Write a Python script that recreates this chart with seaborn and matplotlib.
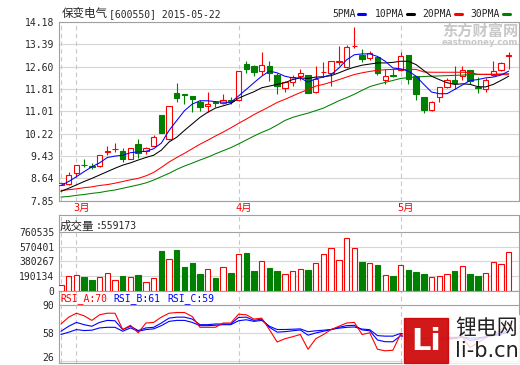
import numpy as np
import pandas as pd
import seaborn as sns
import matplotlib
matplotlib.use("Agg")
from matplotlib import pyplot as plt
from matplotlib.lines import Line2D
from matplotlib.patches import Rectangle
from matplotlib.transforms import ScaledTranslation

# daily candles, 保变电气 600550, late Feb -> 2015-05-22
open_px = [8.40, 8.43, 8.82, 9.13, 9.07, 9.09, 9.59, 9.67, 9.61, 9.34,
           9.87, 9.61, 9.79, 10.88, 10.04, 11.68, 11.64, 11.56, 11.35, 11.19,
           11.33, 11.32, 11.40, 11.42, 12.70, 12.61, 12.44, 12.63, 12.32, 11.85,
           12.06, 12.26, 12.30, 11.69, 12.40, 12.38, 12.78, 12.59, 13.33, 13.02,
           12.90, 12.93, 12.14, 12.30, 12.49, 13.02, 12.26, 11.53, 11.07, 11.54,
           11.89, 12.11, 12.26, 12.47, 11.87, 11.79, 12.30, 12.47, 12.99]
high_px = [8.49, 8.88, 9.13, 9.31, 9.20, 9.47, 9.78, 9.89, 9.73, 9.72,
           10.02, 9.75, 10.16, 10.88, 11.19, 12.03, 11.64, 11.56, 11.41, 11.70,
           11.39, 11.64, 11.53, 12.46, 12.79, 12.67, 13.10, 12.79, 12.38, 12.09,
           12.32, 12.53, 12.30, 12.63, 12.75, 12.79, 13.33, 13.35, 14.00, 13.23,
           13.14, 12.93, 12.50, 12.50, 13.11, 13.02, 12.26, 11.53, 11.39, 11.88,
           12.20, 12.63, 12.63, 12.47, 12.23, 12.20, 12.79, 12.76, 13.10]
low_px = [8.39, 8.39, 8.70, 9.05, 8.97, 9.05, 9.46, 9.58, 9.23, 9.31,
          9.38, 9.52, 9.78, 10.24, 9.99, 11.33, 11.29, 10.98, 11.04, 10.98,
          11.18, 11.29, 11.26, 11.38, 12.38, 12.26, 12.32, 12.09, 11.62, 11.70,
          11.93, 12.14, 11.68, 11.68, 12.22, 11.93, 12.67, 12.55, 13.26, 12.78,
          12.84, 12.32, 11.99, 12.23, 12.44, 11.99, 11.42, 10.94, 11.04, 11.36,
          11.85, 11.79, 12.14, 11.99, 11.68, 11.70, 12.26, 12.44, 12.53]
close_px = [8.48, 8.76, 9.13, 9.10, 9.05, 9.46, 9.62, 9.69, 9.34, 9.72,
            9.54, 9.72, 10.10, 10.24, 11.19, 11.50, 11.58, 11.47, 11.18, 11.27,
            11.32, 11.42, 11.38, 12.46, 12.52, 12.41, 12.65, 12.38, 11.91, 12.05,
            12.23, 12.36, 11.68, 12.17, 12.42, 12.79, 12.81, 13.28, 13.34, 12.87,
            13.07, 12.38, 12.25, 12.28, 12.96, 12.17, 11.62, 11.06, 11.36, 11.88,
            12.14, 12.03, 12.49, 12.09, 11.85, 12.14, 12.44, 12.72, 13.02]
volume = [78e3, 192e3, 205e3, 183e3, 143e3, 179e3, 235e3, 143e3, 196e3, 183e3,
          209e3, 117e3, 165e3, 509e3, 413e3, 522e3, 313e3, 356e3, 222e3, 283e3,
          170e3, 309e3, 235e3, 479e3, 483e3, 261e3, 387e3, 300e3, 261e3, 218e3,
          257e3, 283e3, 274e3, 365e3, 470e3, 557e3, 400e3, 674e3, 557e3, 378e3,
          365e3, 339e3, 209e3, 196e3, 339e3, 274e3, 239e3, 222e3, 179e3, 192e3,
          222e3, 261e3, 322e3, 222e3, 196e3, 235e3, 374e3, 352e3, 495e3]

ma5 = [8.39, 8.53, 8.70, 8.88, 9.05, 9.19, 9.38, 9.43, 9.46, 9.55,
       9.58, 9.60, 9.69, 9.89, 10.34, 10.69, 11.04, 11.27, 11.39, 11.39,
       11.36, 11.34, 11.33, 11.56, 11.79, 12.03, 12.26, 12.44, 12.38, 12.26,
       12.20, 12.20, 12.05, 12.17, 12.23, 12.32, 12.55, 12.84, 13.02, 13.05,
       13.05, 12.96, 12.79, 12.55, 12.52, 12.44, 12.26, 11.97, 11.70, 11.64,
       11.64, 11.79, 11.95, 12.11, 12.14, 12.20, 12.23, 12.30, 12.44]
ma10 = [8.18, 8.29, 8.41, 8.53, 8.64, 8.76, 8.88, 9.00, 9.11, 9.19,
        9.29, 9.38, 9.46, 9.64, 9.93, 10.10, 10.34, 10.57, 10.80, 10.98,
        11.13, 11.21, 11.29, 11.48, 11.60, 11.71, 11.85, 11.91, 11.97, 12.03,
        12.14, 12.20, 12.18, 12.23, 12.24, 12.28, 12.38, 12.49, 12.58, 12.65,
        12.69, 12.73, 12.73, 12.75, 12.79, 12.79, 12.67, 12.46, 12.26, 12.14,
        12.03, 11.97, 11.99, 11.97, 11.89, 11.88, 11.97, 12.11, 12.26]
ma20 = [8.21, 8.24, 8.27, 8.31, 8.34, 8.39, 8.42, 8.47, 8.53, 8.59,
        8.64, 8.73, 8.85, 9.03, 9.22, 9.38, 9.53, 9.69, 9.85, 9.99,
        10.14, 10.28, 10.43, 10.59, 10.74, 10.90, 11.04, 11.18, 11.33, 11.44,
        11.56, 11.68, 11.79, 11.91, 11.97, 12.05, 12.14, 12.23, 12.32, 12.38,
        12.43, 12.47, 12.49, 12.50, 12.50, 12.50, 12.50, 12.41, 12.40, 12.40,
        12.40, 12.40, 12.40, 12.39, 12.33, 12.32, 12.32, 12.32, 12.31]
ma30 = [7.98, 8.00, 8.04, 8.07, 8.11, 8.14, 8.19, 8.23, 8.29, 8.35,
        8.41, 8.48, 8.58, 8.70, 8.82, 8.96, 9.08, 9.18, 9.29, 9.39,
        9.51, 9.62, 9.73, 9.86, 10.00, 10.14, 10.27, 10.38, 10.53, 10.69,
        10.80, 10.88, 10.95, 11.04, 11.13, 11.26, 11.39, 11.50, 11.62, 11.76,
        11.89, 11.97, 12.04, 12.11, 12.18, 12.21, 12.23, 12.25, 12.26, 12.27,
        12.28, 12.29, 12.30, 12.31, 12.32, 12.33, 12.33, 12.34, 12.35]

rsi_a = [68.3, 76.1, 80.6, 77.6, 72.4, 78.8, 80.6, 80.6, 61.9, 66.8,
         58.2, 69.4, 70.1, 76.1, 80.6, 81.4, 81.4, 76.9, 64.5, 64.5,
         64.5, 69.4, 69.4, 79.5, 78.8, 73.9, 75.0, 61.9, 47.7, 51.4,
         53.7, 56.3, 39.4, 51.4, 56.3, 61.9, 65.7, 69.4, 70.1, 56.3,
         58.2, 39.4, 37.6, 38.3, 57.0, 48.8, 43.2, 39.4, 43.2, 48.8,
         50.7, 51.4, 53.7, 41.3, 46.9, 52.5, 56.3, 61.9, 70.0]
rsi_b = [60.0, 65.7, 70.1, 67.5, 65.7, 70.1, 72.4, 72.0, 61.9, 65.7,
         60.8, 63.8, 64.5, 69.4, 75.0, 76.1, 76.1, 73.9, 67.5, 67.5,
         68.3, 68.3, 68.3, 75.8, 76.1, 72.4, 73.9, 64.5, 59.0, 59.5,
         60.5, 61.5, 55.5, 58.0, 60.0, 62.0, 64.5, 66.4, 66.8, 61.5,
         60.5, 50.0, 48.0, 48.0, 55.0, 52.0, 48.5, 46.0, 48.0, 50.5,
         51.5, 52.0, 53.5, 49.5, 51.0, 53.5, 55.5, 58.0, 61.0]
rsi_c = [56.3, 58.9, 61.9, 60.8, 61.2, 63.8, 64.5, 64.5, 60.0, 63.8,
         60.0, 61.9, 62.7, 66.4, 71.3, 72.4, 72.4, 70.1, 66.4, 66.4,
         66.8, 67.5, 67.5, 72.0, 73.1, 71.3, 72.4, 65.7, 62.0, 62.0,
         62.3, 62.7, 59.5, 60.5, 61.2, 62.0, 63.5, 64.5, 64.9, 62.5,
         61.8, 55.0, 54.4, 54.4, 57.5, 56.0, 53.5, 51.5, 52.0, 52.5,
         53.0, 53.0, 53.5, 52.0, 52.5, 53.5, 55.0, 56.5, 59.0]

month_pos = [2, 23, 44]
month_labels = ["3月", "4月", "5月"]
price_ticks = [7.85, 8.64, 9.43, 10.22, 11.01, 11.81, 12.60, 13.39, 14.18]
vol_ticks = [0, 190134, 380267, 570401, 760535]
rsi_ticks = [26, 58, 90]

sns.set_style("white")
plt.rcParams["font.family"] = ["DejaVu Sans Mono", "Noto Sans CJK SC"]

RED, GRN, BLUE = "#ff0000", "#008000", "#0000ff"
GRID, SPINE, DASH = "#d6d6d6", "#a0a0a0", "#c8c8c8"
W, H = 520, 365

def fx(p):
    return p / W

def fy(p):
    return 1 - p / H

df = pd.DataFrame(dict(i=np.arange(len(close_px)), o=open_px, h=high_px, l=low_px,
                       c=close_px, v=volume, ma5=ma5, ma10=ma10, ma20=ma20, ma30=ma30,
                       ra=rsi_a, rb=rsi_b, rc=rsi_c))
df["up"] = df.c >= df.o
edge = np.where(df.up, RED, GRN)
face = np.where(df.up, "white", GRN)

fig = plt.figure(figsize=(5.2, 3.65), dpi=100)
L, R = fx(58.5), fx(519)
ax = fig.add_axes([L, fy(200.7), R - L, fy(22) - fy(200.7)])
axv = fig.add_axes([L, fy(291), R - L, fy(215) - fy(291)])
axr = fig.add_axes([L, fy(363), R - L, fy(291) - fy(363)])


def frame(a, ticks, labels, strong=None):
    a.set_xlim(-0.32, 59.33)
    a.set_xticks([])
    a.set_yticks(ticks)
    a.set_yticklabels(labels, fontsize=7, family="DejaVu Sans Mono")
    a.tick_params(axis="y", length=0, pad=3)
    for s in a.spines.values():
        s.set_color(SPINE)
        s.set_linewidth(0.8)
    for t in ticks:
        a.axhline(t, color=SPINE if t == strong else GRID, lw=0.8, zorder=0)
    for m in [0] + month_pos:
        a.axvline(m, color=DASH, lw=0.8, ls=(0, (4, 3)), zorder=0.5)


# price panel
ax.set_ylim(7.85, 14.18)
frame(ax, price_ticks, [f"{t:.2f}" for t in price_ticks])
ax.vlines(df.i, df.l, df.h, colors=edge, lw=0.8, zorder=2)
body = np.maximum((df.c - df.o).abs(), 0.01)
ax.bar(df.i, body, bottom=np.minimum(df.o, df.c), width=0.7,
       color=face, edgecolor=edge, lw=0.8, zorder=3)
for col, clr in [("ma30", GRN), ("ma20", RED), ("ma10", "black"), ("ma5", BLUE)]:
    sns.lineplot(data=df, x="i", y=col, color=clr, lw=0.75, ax=ax, zorder=4)
ax.set_xlabel("")
ax.set_ylabel("")
for p, lab in zip(month_pos, month_labels):
    ax.text(p - 0.45, -0.012, lab, color=RED, fontsize=7.5, va="top", ha="left",
            transform=ax.get_xaxis_transform())

# volume panel
axv.set_ylim(0, 975000)
frame(axv, vol_ticks, [str(t) for t in vol_ticks], strong=760535)
axv.bar(df.i, df.v, width=0.7, color=face, edgecolor=edge, lw=0.8, zorder=3)
fig.text(fx(60), fy(226), "成交量", fontsize=8.3, family="Noto Sans CJK SC",
         va="center", ha="left")
fig.text(fx(95.5), fy(226), ":559173", fontsize=7, va="center", ha="left")

# RSI panel
axr.set_ylim(23.7, 106)
frame(axr, rsi_ticks, [str(t) for t in rsi_ticks], strong=90)
sns.lineplot(data=df, x="i", y="rc", color=BLUE, lw=0.8, ax=axr, zorder=3)
sns.lineplot(data=df, x="i", y="rb", color=BLUE, lw=0.8, ax=axr, zorder=3)
sns.lineplot(data=df, x="i", y="ra", color=RED, lw=0.8, ax=axr, zorder=4)
axr.set_xlabel("")
axr.set_ylabel("")
lab26 = axr.get_yticklabels()[0]
lab26.set_transform(lab26.get_transform() + ScaledTranslation(0, 3 / 72, fig.dpi_scale_trans))
for xp, s, clr in [(60, "RSI_A:70", RED), (113, "RSI_B:61", BLUE), (167, "RSI_C:59", BLUE)]:
    fig.text(fx(xp), fy(299), s, color=clr, fontsize=7, va="center", ha="left")

# header: title + MA legend
fig.text(fx(62), fy(14), "保变电气", fontsize=8.3, family="Noto Sans CJK SC",
         va="center", ha="left")
fig.text(fx(109), fy(14), "[600550] 2015-05-22", fontsize=7, va="center", ha="left")
for xt, x0, lab, clr in [(332, 358, "5PMA", BLUE), (375, 407, "10PMA", "black"),
                         (422, 455, "20PMA", RED), (470, 503, "30PMA", GRN)]:
    fig.text(fx(xt), fy(14), lab, fontsize=7, va="center", ha="left")
    fig.add_artist(Line2D([fx(x0), fx(x0 + 7)], [fy(14), fy(14)], color=clr, lw=2.2,
                          transform=fig.transFigure))

# watermarks
fig.text(fx(480), fy(31), "东方财富网", fontsize=11, family="Noto Sans CJK SC",
         weight="bold", color="#c8c8c8", va="center", ha="center")
fig.text(fx(480), fy(42.5), "eastmoney.com", fontsize=6.2, family="DejaVu Sans",
         weight="bold", color="#c8c8c8", va="center", ha="center")
fig.add_artist(Rectangle((fx(403), fy(365)), fx(519) - fx(403), fy(315) - fy(365),
                         transform=fig.transFigure, color="white", alpha=0.8, zorder=5))
fig.add_artist(Rectangle((fx(404), fy(363)), fx(448) - fx(404), fy(318) - fy(363),
                         transform=fig.transFigure, color="#cc0000", alpha=0.9, zorder=6))
fig.text(fx(426), fy(341), "Li", fontsize=22, family="DejaVu Sans", weight="bold",
         color="white", va="center", ha="center", zorder=7)
fig.text(fx(487), fy(327.5), "锂电网", fontsize=15, family="Noto Sans CJK SC",
         color="#222222", va="center", ha="center", zorder=7)
fig.text(fx(487), fy(351), "li-b.cn", fontsize=15, family="DejaVu Sans",
         color="#222222", va="center", ha="center", zorder=7)

fig.savefig("out.png", dpi=100, facecolor="white")
